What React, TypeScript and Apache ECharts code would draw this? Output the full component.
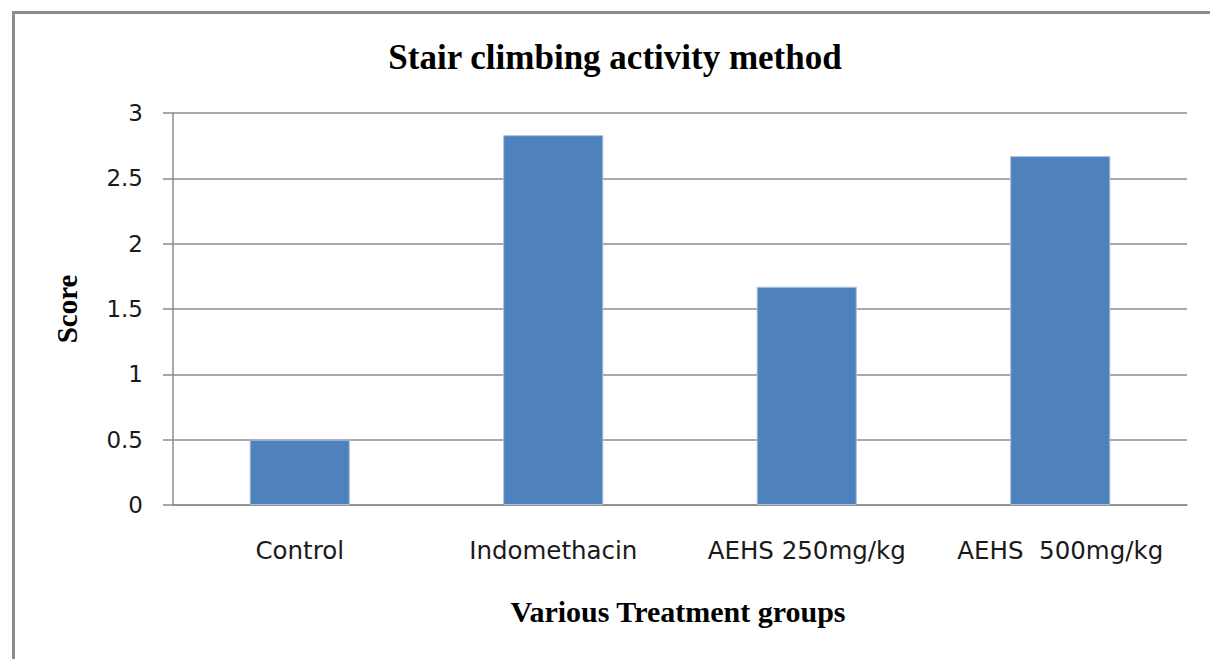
import React, { useEffect, useRef } from "react";
import * as echarts from "echarts";

const categories = ["Control", "Indomethacin", "AEHS 250mg/kg", "AEHS  500mg/kg"];
const scores = [0.5, 2.83, 1.67, 2.67];
const yTicks = { min: 0, max: 3, interval: 0.5 };
const titleText = "Stair climbing activity method";
const yAxisTitle = "Score";
const xAxisTitle = "Various Treatment groups";

export default function App() {
  const ref = useRef<HTMLDivElement>(null);
  useEffect(() => {
    const chart = echarts.init(ref.current!, null, { renderer: "svg" });
    const serif = "'Liberation Serif', 'Times New Roman', serif";
    const sans = "'DejaVu Sans', sans-serif";
    chart.setOption({
      animation: false,
      backgroundColor: "#ffffff",
      grid: { left: 173, right: 23, top: 113, bottom: 154 },
      xAxis: {
        type: "category",
        data: categories,
        axisLine: { show: true, lineStyle: { color: "#8c8c8c", width: 1.5 } },
        axisTick: { show: false },
        axisLabel: { color: "#1a1a1a", fontFamily: sans, fontSize: 24.5, margin: 33, interval: 0 },
      },
      yAxis: {
        type: "value",
        min: yTicks.min,
        max: yTicks.max,
        interval: yTicks.interval,
        axisLine: { show: true, lineStyle: { color: "#8c8c8c", width: 1.5 } },
        axisTick: { show: true, length: 10, lineStyle: { color: "#8c8c8c", width: 1.5 } },
        splitLine: { lineStyle: { color: "#8c8c8c", width: 1.5 } },
        axisLabel: { color: "#1a1a1a", fontFamily: sans, fontSize: 23, margin: 30 },
      },
      series: [
        {
          type: "bar",
          data: scores,
          barWidth: "39.5%",
          itemStyle: { color: "#4F81BD", borderColor: "#a9c0e0", borderWidth: 1 },
        },
      ],
      graphic: [
        {
          type: "rect",
          left: 11,
          top: 10,
          shape: { width: 1300, height: 800 },
          style: { fill: "none", stroke: "#8c8c8c", lineWidth: 3 },
          silent: true,
          z: 10,
        },
        {
          type: "text",
          x: 615,
          y: 57,
          style: {
            text: titleText,
            fontFamily: serif,
            fontWeight: "bold",
            fontSize: 35,
            fill: "#000",
            textAlign: "center",
            textVerticalAlign: "middle",
          },
        },
        {
          type: "text",
          x: 67,
          y: 309,
          rotation: Math.PI / 2,
          style: {
            text: yAxisTitle,
            fontFamily: serif,
            fontWeight: "bold",
            fontSize: 29,
            fill: "#000",
            textAlign: "center",
            textVerticalAlign: "middle",
          },
        },
        {
          type: "text",
          x: 678,
          y: 611,
          style: {
            text: xAxisTitle,
            fontFamily: serif,
            fontWeight: "bold",
            fontSize: 30,
            fill: "#000",
            textAlign: "center",
            textVerticalAlign: "middle",
          },
        },
      ],
    });
    return () => chart.dispose();
  }, []);
  return (
    <div
      ref={ref}
      style={{ position: "absolute", left: 0, top: 0, width: 1210, height: 659 }}
    />
  );
}
